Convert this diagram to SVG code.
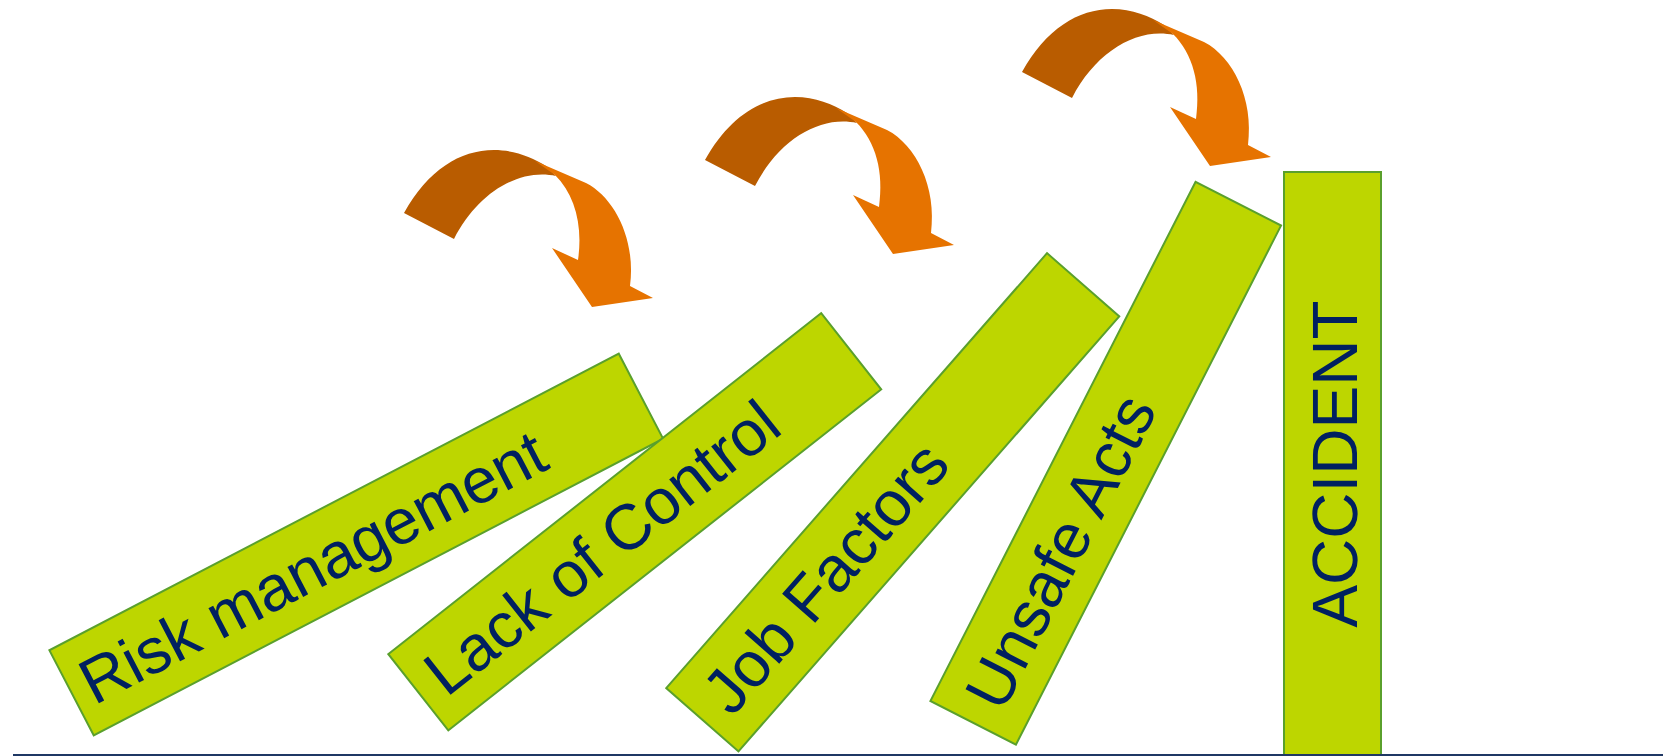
<svg xmlns="http://www.w3.org/2000/svg" xmlns:xlink="http://www.w3.org/1999/xlink" width="1663" height="756" viewBox="0 0 1663 756">
  <style>
    .bar { fill: #bdd600; stroke: #5aa02c; stroke-width: 2; }
    .lbl { font-family: "Liberation Sans", Arial, sans-serif; font-size: 64px; fill: #002060; text-rendering: geometricPrecision; }
    .back { fill: #b95c00; }
    .front { fill: #e67300; }
  </style>
  <defs>
    <g id="curl">
      <path class="back" d="M404,213 C428,170 460,150 494,150 C514,150 532,157 546,166 L556,176 C520,168 478,192 454,239 Z"/>
      <path class="front" d="M535,161 L586,183 C615,198 636,240 630,286 L653,298 L592,307 L552,248 L578,260 C583,225 575,195 555,175 Z"/>
    </g>
  </defs>
  <rect width="1663" height="756" fill="#ffffff"/>

  <g id="risk-management" transform="translate(356.25,544.5) rotate(-27.52)">
    <rect class="bar" x="-321" y="-48" width="642" height="96"/>
    <text class="lbl" x="-307" y="22">Risk management</text>
  </g>
  <g id="lack-of-control" transform="translate(634.75,521.75) rotate(-38.22)">
    <rect class="bar" x="-275.5" y="-48.5" width="551" height="97"/>
    <text class="lbl" x="-257" y="22">Lack of Control</text>
  </g>
  <g id="job-factors" transform="translate(892.75,502.25) rotate(-48.79)">
    <rect class="bar" x="-289" y="-48" width="578" height="96"/>
    <text class="lbl" x="-268" y="21">Job Factors</text>
  </g>
  <g id="unsafe-acts" transform="translate(1105.75,463.25) rotate(-62.95)">
    <rect class="bar" x="-291.5" y="-48" width="583" height="96"/>
    <text class="lbl" x="-270" y="22">Unsafe Acts</text>
  </g>
  <g id="accident">
    <rect class="bar" x="1284" y="172" width="97" height="584"/>
    <text class="lbl" transform="translate(1357,464) rotate(-90)" text-anchor="middle" x="0" y="0">ACCIDENT</text>
  </g>

  <g id="connectors">
    <use xlink:href="#curl" href="#curl"/>
    <use xlink:href="#curl" href="#curl" transform="translate(301,-53)"/>
    <use xlink:href="#curl" href="#curl" transform="translate(618,-141)"/>
  </g>

  <line id="ground" x1="13" y1="755" x2="1663" y2="755" stroke="#1f3864" stroke-width="2"/>
</svg>
